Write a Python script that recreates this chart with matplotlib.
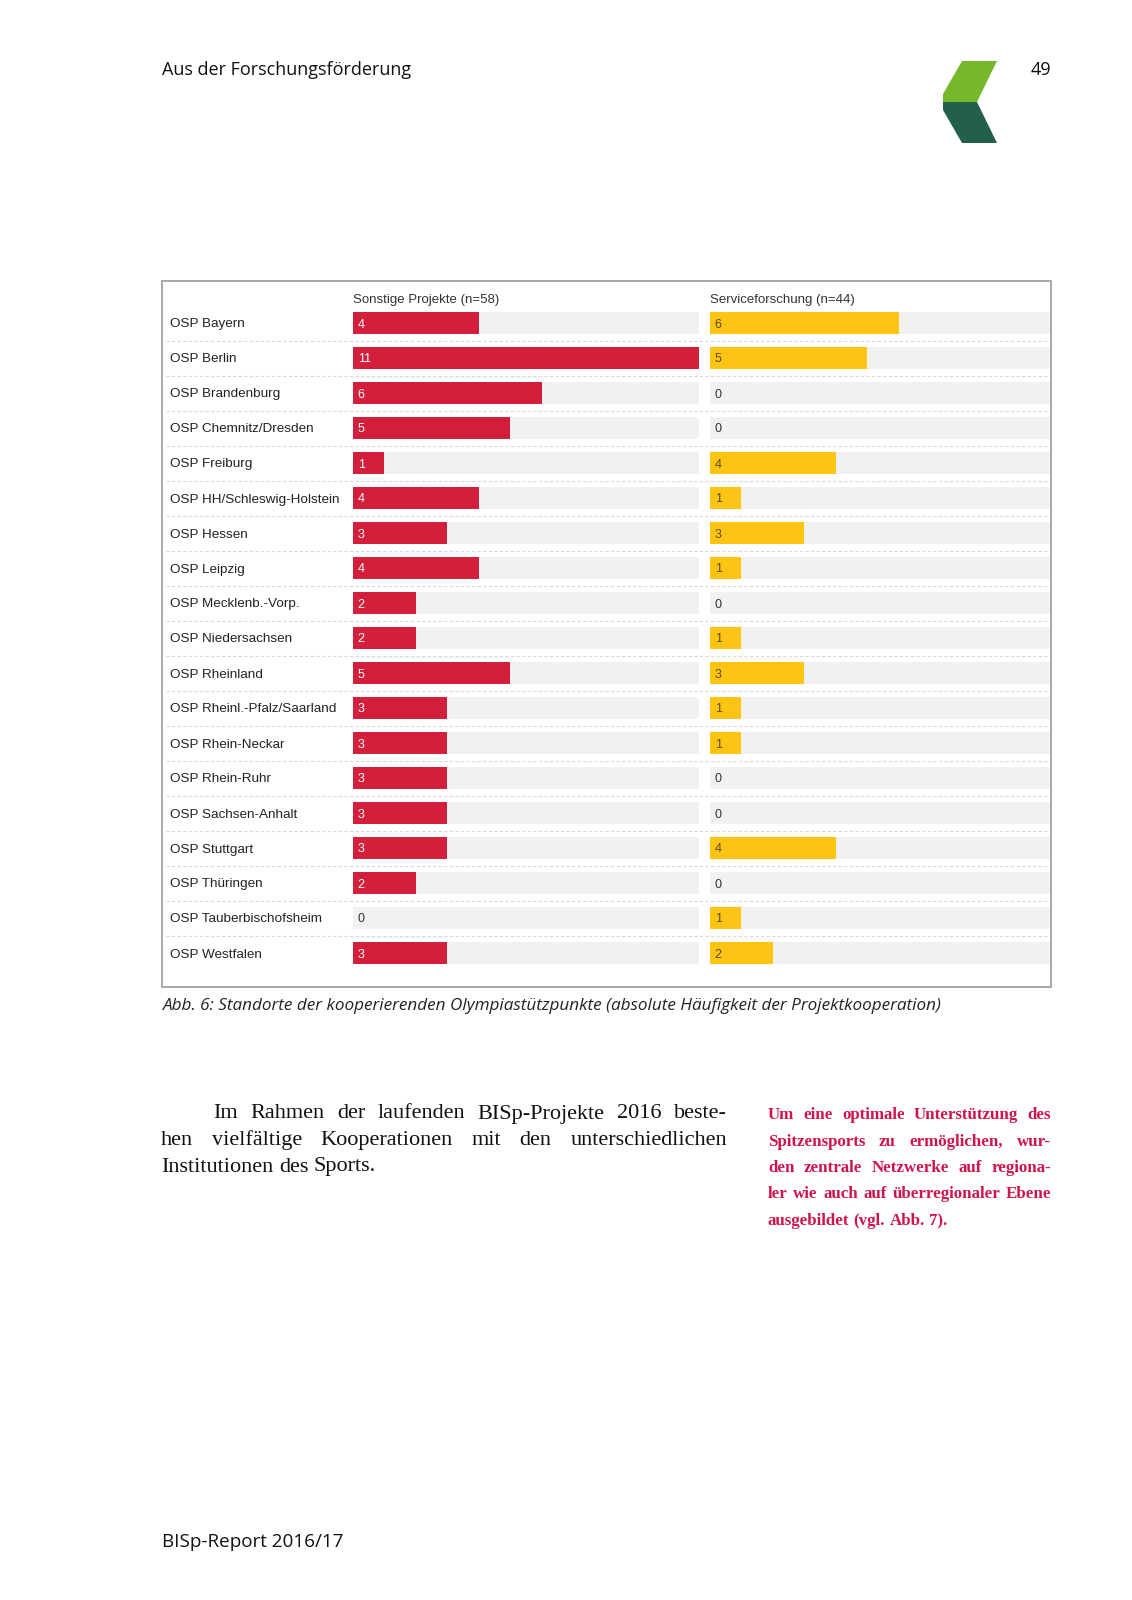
import numpy as np
import matplotlib
matplotlib.use("Agg")
import matplotlib.pyplot as plt
from matplotlib.patches import Polygon, Rectangle

# data
standorte = ["OSP Bayern", "OSP Berlin", "OSP Brandenburg", "OSP Chemnitz/Dresden",
             "OSP Freiburg", "OSP HH/Schleswig-Holstein", "OSP Hessen", "OSP Leipzig",
             "OSP Mecklenb.-Vorp.", "OSP Niedersachsen", "OSP Rheinland",
             "OSP Rheinl.-Pfalz/Saarland", "OSP Rhein-Neckar", "OSP Rhein-Ruhr",
             "OSP Sachsen-Anhalt", "OSP Stuttgart", "OSP Thüringen",
             "OSP Tauberbischofsheim", "OSP Westfalen"]
sonstige = [4, 11, 6, 5, 1, 4, 3, 4, 2, 2, 5, 3, 3, 3, 3, 3, 2, 0, 3]
service = [6, 5, 0, 0, 4, 1, 3, 1, 0, 1, 3, 1, 1, 0, 0, 4, 0, 1, 2]
panel_titles = ["Sonstige Projekte (n=58)", "Serviceforschung (n=44)"]

W, H = 1132, 1600
RED = "#d41f3c"
YELLOW = "#fdc414"
BG = "#f1f1f1"
MAGENTA = "#d0144b"

fig = plt.figure(figsize=(W / 100, H / 100), dpi=100)

# page overlay in pixel coordinates
page = fig.add_axes([0, 0, 1, 1])
page.set_xlim(0, W)
page.set_ylim(H, 0)
page.axis("off")


def px_axes(x0, y0, x1, y1):
    return fig.add_axes([x0 / W, 1 - y1 / H, (x1 - x0) / W, (y1 - y0) / H])


row0, step = 323, 35.0
n = len(standorte)
top = row0 - step / 2
bottom = row0 + step * (n - 1) + step / 2

# frame and row separators
page.add_patch(Rectangle((162, 281), 889, 706, fill=False, ec="#9a9a9a", lw=1.2))
for i in range(n - 1):
    yy = row0 + step * i + step / 2
    page.plot([166, 1049], [yy, yy], color="#d9d9d9", lw=0.8, ls=(0, (3, 2)))

sans = "Liberation Sans"
y = np.arange(n)
for k, (vals, color, x0, x1, xmax) in enumerate([
        (sonstige, RED, 353, 699, 11),
        (service, YELLOW, 710, 1050, 340 / 31.45)]):
    ax = px_axes(x0, top, x1, bottom)
    ax.set_xlim(0, xmax)
    ax.set_ylim(n - 0.5, -0.5)
    ax.axis("off")
    ax.barh(y, [xmax] * n, height=0.62, color=BG)
    ax.barh(y, vals, height=0.62, color=color)
    for i, v in enumerate(vals):
        if v > 0:
            tc = "white" if color == RED else "#5a4a10"
        else:
            tc = "#333333"
        ax.text(0.15, i, str(v), color=tc, fontsize=9, family=sans,
                va="center_baseline", ha="left")
    page.text(x0, 299, panel_titles[k], fontsize=9.5, family=sans,
              color="#333333", va="center_baseline", ha="left")

for i, name in enumerate(standorte):
    page.text(170, row0 + step * i, name, fontsize=9.7, family=sans,
              color="#222222", va="center_baseline", ha="left")

# caption
page.text(163, 1006, "Abb. 6: Standorte der kooperierenden Olympiastützpunkte "
          "(absolute Häufigkeit der Projektkooperation)",
          fontsize=12.3, family="Open Sans", style="italic", color="#222222",
          va="center", ha="left")

# page header / footer
page.text(162, 70, "Aus der Forschungsförderung", fontsize=13, family="Open Sans",
          color="#111111", va="center", ha="left")
page.text(1051, 70, "49", fontsize=13, family="Open Sans", color="#111111",
          va="center", ha="right")
page.text(162, 1542, "BISp-Report 2016/17", fontsize=13.6, family="Open Sans",
          color="#111111", va="center", ha="left")

# logo
page.add_patch(Polygon([(962, 61), (997, 61), (977, 102), (943, 102), (943, 94)],
                       closed=True, color="#76b82a", lw=0))
page.add_patch(Polygon([(943, 102), (977, 102), (997, 143), (962, 143), (943, 110)],
                       closed=True, color="#22604c", lw=0))

# justified body text
renderer = fig.canvas.get_renderer()


def justify(lines, x0, x1, y0, dy, **kw):
    space = page.text(0, 0, "a a", **kw)
    sw = space.get_window_extent(renderer).width
    aw = page.text(0, 0, "aa", **kw)
    sw -= aw.get_window_extent(renderer).width
    space.remove()
    aw.remove()
    for j, (line, indent, full) in enumerate(lines):
        words = line.split()
        arts = [page.text(0, y0 + j * dy, w, va="center", ha="left", **kw) for w in words]
        widths = [a.get_window_extent(renderer).width for a in arts]
        start = x0 + indent
        if full and len(words) > 1:
            gap = (x1 - start - sum(widths)) / (len(words) - 1)
        else:
            gap = sw
        xx = start
        for a, w in zip(arts, widths):
            a.set_x(xx)
            xx += w + gap


body = [("Im Rahmen der laufenden BISp-Projekte 2016 beste-", 52, True),
        ("hen vielfältige Kooperationen mit den unterschiedlichen", 0, True),
        ("Institutionen des Sports.", 0, False)]
justify(body, 161, 727, 1114, 26.5, fontsize=16, family="Liberation Serif",
        color="#111111")

side = [("Um eine optimale Unterstützung des", 0, True),
        ("Spitzensports zu ermöglichen, wur-", 0, True),
        ("den zentrale Netzwerke auf regiona-", 0, True),
        ("ler wie auch auf überregionaler Ebene", 0, True),
        ("ausgebildet (vgl. Abb. 7).", 0, False)]
justify(side, 768, 1051, 1115, 26.5, fontsize=12.2, family="Liberation Serif",
        weight="bold", color=MAGENTA)

fig.savefig("out.png", dpi=100)
